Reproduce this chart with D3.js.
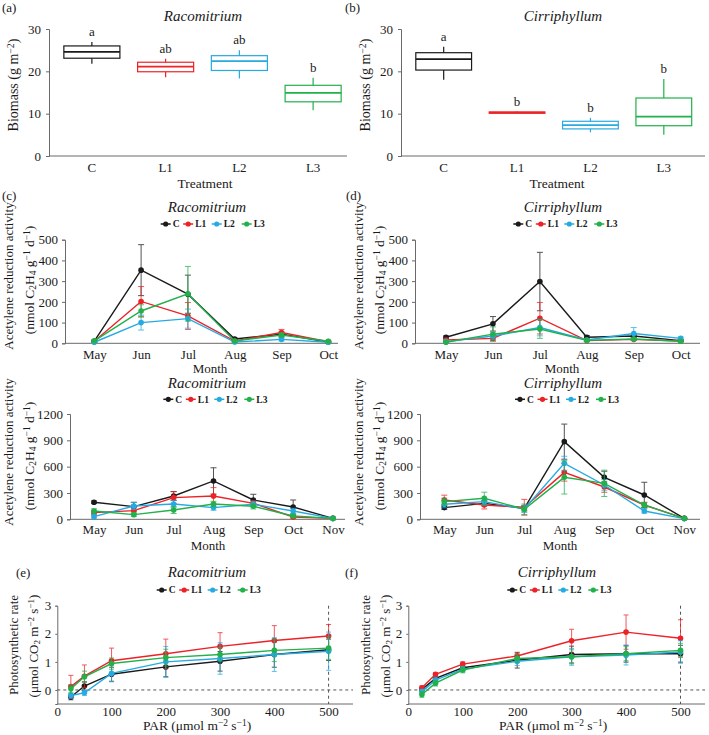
<!DOCTYPE html>
<html lang="en">
<head>
<meta charset="UTF-8">
<title>Biomass, acetylene reduction and photosynthesis</title>
<script src="https://d3js.org/d3.v7.min.js"></script>
<style>
  body { margin: 0; background: #fff; }
  svg text { font-family: "Liberation Serif", "Times New Roman", serif; fill: #1a1a1a; }
  .axis path, .axis line { stroke: #6a6a6a; }
  .axis text { font-size: 13px; }
</style>
</head>
<body>
<div id="fig"></div>
<script>
// ---- data ----
const treatments = ["C", "L1", "L2", "L3"];
const colors = ["#1a1a1a", "#ec2227", "#27aae1", "#22b04b"];

// box plots: [whisker low, q1, median, q3, whisker high]
const racBox = [[21.8, 23.1, 24.6, 26.0, 26.9], [18.6, 19.9, 21.1, 22.15, 23.0],
                [18.3, 20.2, 22.4, 23.7, 25.0], [10.8, 12.8, 14.9, 16.7, 18.5]];
const racLetters = ["a", "ab", "ab", "b"];
const cirBox = [[18.0, 20.3, 22.9, 24.4, 25.8], [10.0, 10.1, 10.25, 10.4, 10.5],
                [5.6, 6.4, 7.3, 8.2, 9.0], [5.0, 7.15, 9.3, 13.7, 18.2]];
const cirLetters = ["a", "b", "b", "b"];
const biomassTicks = [0, 10, 20, 30];

// acetylene reduction, first year (May-Oct)
const months6 = ["May", "Jun", "Jul", "Aug", "Sep", "Oct"];
const racAra1 = [[10, 353, 237, 21, 44, 6], [10, 202, 132, 11, 52, 8],
                 [5, 100, 119, 6, 19, 5], [12, 156, 239, 11, 40, 10]];
const racAra1Err = [[5, 123, 92, 5, 10, 3], [4, 72, 65, 4, 15, 3],
                    [3, 36, 46, 3, 8, 2], [4, 30, 132, 4, 10, 3]];
const cirAra1 = [[29, 94, 298, 29, 35, 13], [16, 24, 121, 13, 19, 11],
                 [8, 35, 76, 16, 47, 24], [5, 44, 69, 14, 21, 10]];
const cirAra1Err = [[6, 35, 141, 8, 8, 4], [5, 10, 76, 4, 6, 3],
                    [3, 15, 40, 4, 29, 6], [3, 35, 45, 4, 6, 3]];
const ara1Ticks = [0, 100, 200, 300, 400, 500];

// acetylene reduction, second year (May-Nov)
const months7 = ["May", "Jun", "Jul", "Aug", "Sep", "Oct", "Nov"];
const racAra2 = [[194, 144, 266, 437, 220, 140, 10], [76, 99, 247, 266, 182, 27, 10],
                 [30, 152, 175, 133, 171, 95, 10], [95, 53, 106, 175, 148, 38, 10]];
const racAra2Err = [[15, 50, 50, 150, 65, 80, 5], [20, 30, 68, 95, 30, 15, 5],
                    [15, 40, 40, 30, 30, 30, 5], [25, 20, 40, 30, 30, 15, 5]];
const cirAra2 = [[133, 182, 125, 885, 478, 277, 10], [220, 163, 137, 535, 368, 163, 10],
                 [171, 201, 118, 638, 391, 95, 8], [201, 239, 114, 478, 410, 163, 10]];
const cirAra2Err = [[20, 30, 30, 200, 70, 145, 5], [55, 45, 90, 100, 60, 30, 5],
                    [40, 40, 40, 80, 60, 25, 5], [40, 70, 60, 190, 150, 30, 5]];
const ara2Ticks = [0, 300, 600, 900, 1200];

// photosynthesis light response
const par = [25, 50, 100, 200, 300, 400, 500];
const racPs = [[-0.25, 0.14, 0.56, 0.82, 1.02, 1.26, 1.43], [0.12, 0.49, 1.04, 1.29, 1.55, 1.76, 1.92],
               [-0.2, -0.1, 0.59, 1.0, 1.12, 1.26, 1.38], [0.04, 0.47, 0.94, 1.15, 1.26, 1.41, 1.49]];
const racPsErr = [[0.1, 0.15, 0.25, 0.35, 0.35, 0.45, 0.38], [0.4, 0.4, 0.45, 0.52, 0.49, 0.53, 0.41],
                  [0.1, 0.1, 0.3, 0.55, 0.56, 0.6, 0.68], [0.15, 0.2, 0.2, 0.3, 0.25, 0.4, 0.4]];
const cirPs = [[0.02, 0.41, 0.79, 1.06, 1.26, 1.29, 1.29], [0.08, 0.56, 0.92, 1.21, 1.75, 2.06, 1.84],
               [-0.06, 0.35, 0.74, 1.02, 1.18, 1.24, 1.35], [-0.16, 0.24, 0.71, 1.12, 1.18, 1.29, 1.41]];
const cirPsErr = [[0.05, 0.1, 0.1, 0.28, 0.3, 0.3, 0.3], [0.06, 0.06, 0.08, 0.1, 0.41, 0.61, 0.66],
                  [0.08, 0.1, 0.1, 0.15, 0.3, 0.35, 0.4], [0.1, 0.1, 0.1, 0.15, 0.25, 0.25, 0.25]];
const psTicks = [0, 1, 2, 3];
const parTicks = [0, 100, 200, 300, 400, 500];

// ---- svg ----
const svg = d3.select("#fig").append("svg")
  .attr("width", 709).attr("height", 735);

// text with sub/superscripts: parts = [[text, "sub"|"sup"|null], ...]
function rich(text, parts) {
  parts.forEach(([t, k]) => {
    const ts = text.append("tspan").text(t);
    if (k) ts.attr("baseline-shift", k === "sub" ? "-25%" : "40%").attr("font-size", "70%");
  });
  return text;
}

function rotLabel(x, y, parts, size) {
  rich(svg.append("text")
    .attr("transform", `translate(${x},${y}) rotate(-90)`)
    .attr("text-anchor", "middle")
    .attr("font-size", size), parts);
}

function plainText(x, y, str, size, opts = {}) {
  return svg.append("text").attr("x", x).attr("y", y)
    .attr("text-anchor", opts.anchor || "middle")
    .attr("font-size", size)
    .attr("font-style", opts.italic ? "italic" : null)
    .text(str);
}

function yAxis(y, x0, ticks, size, pad) {
  svg.append("g").attr("class", "axis")
    .attr("transform", `translate(${x0},0)`)
    .call(d3.axisLeft(y).tickValues(ticks).tickFormat(d3.format("d")).tickSize(size).tickPadding(pad));
}

function xAxis(x, y0, x1, x2, pad, ticks) {
  const ax = d3.axisBottom(x).tickSize(0).tickPadding(pad);
  if (ticks) ax.tickValues(ticks).tickFormat(d3.format("d"));
  const g = svg.append("g").attr("class", "axis")
    .attr("transform", `translate(0,${y0})`).call(ax);
  g.select(".domain").remove();
  svg.append("line").attr("x1", x1).attr("x2", x2).attr("y1", y0).attr("y2", y0)
    .attr("stroke", "#6a6a6a");
}

function legend(x0, y0) {
  const offs = [0, 22.5, 51, 81];
  const g = svg.append("g");
  const item = g.selectAll("g").data(treatments).join("g")
    .attr("transform", (d, i) => `translate(${x0 + offs[i]},${y0})`);
  item.append("line").attr("x1", -5).attr("x2", 5)
    .attr("stroke", (d, i) => colors[i]).attr("stroke-width", 1.5);
  item.append("circle").attr("r", 2.6).attr("fill", (d, i) => colors[i]);
  item.append("text").attr("x", 7).attr("y", 3.3)
    .attr("font-size", 9.5).attr("font-weight", "bold").text(d => d);
}

function boxPanel(data, letters, axisX, axisEnd, bandRange) {
  const y = d3.scaleLinear().domain([0, 30]).range([156, 29]);
  const x = d3.scaleBand().domain(treatments).range(bandRange);
  yAxis(y, axisX, biomassTicks, 3, 5);
  xAxis(x, 156, axisX, axisEnd, 7);
  const bw = x.bandwidth() * 0.76;
  const rows = treatments.map((t, i) => ({ t, v: data[i], c: colors[i], l: letters[i] }));
  const g = svg.append("g").selectAll("g").data(rows).join("g")
    .attr("transform", d => `translate(${x(d.t) + x.bandwidth() / 2},0)`)
    .attr("stroke", d => d.c).attr("fill", "none");
  g.append("line").attr("y1", d => y(d.v[0])).attr("y2", d => y(d.v[1])).attr("stroke-width", 1.2);
  g.append("line").attr("y1", d => y(d.v[3])).attr("y2", d => y(d.v[4])).attr("stroke-width", 1.2);
  g.append("rect").attr("x", -bw / 2).attr("width", bw)
    .attr("y", d => y(d.v[3])).attr("height", d => y(d.v[1]) - y(d.v[3]))
    .attr("stroke-width", 1.2);
  g.append("line").attr("x1", -bw / 2).attr("x2", bw / 2)
    .attr("y1", d => y(d.v[2])).attr("y2", d => y(d.v[2])).attr("stroke-width", 1.8);
  g.append("text").attr("y", d => y(d.v[4]) - 6).attr("text-anchor", "middle")
    .attr("stroke", "none").attr("fill", "#1a1a1a").attr("font-size", 13)
    .text(d => d.l);
}

function series(x, y, xs, vals, errs, cap) {
  vals.forEach((v, i) => {
    const pts = xs.map((xv, j) => ({ x: x(xv), y: y(v[j]), lo: y(v[j] - errs[i][j]), hi: y(v[j] + errs[i][j]) }));
    const g = svg.append("g");
    const eb = g.append("g").attr("stroke", colors[i]).attr("stroke-width", 1).attr("opacity", 0.75)
      .selectAll("g").data(pts).join("g");
    eb.append("line").attr("x1", d => d.x).attr("x2", d => d.x).attr("y1", d => d.lo).attr("y2", d => d.hi);
    eb.append("line").attr("x1", d => d.x - cap).attr("x2", d => d.x + cap).attr("y1", d => d.lo).attr("y2", d => d.lo);
    eb.append("line").attr("x1", d => d.x - cap).attr("x2", d => d.x + cap).attr("y1", d => d.hi).attr("y2", d => d.hi);
    g.append("path").datum(pts)
      .attr("d", d3.line().x(d => d.x).y(d => d.y))
      .attr("fill", "none").attr("stroke", colors[i]).attr("stroke-width", 1.4);
    g.selectAll("circle").data(pts).join("circle")
      .attr("cx", d => d.x).attr("cy", d => d.y).attr("r", 2.8).attr("fill", colors[i]);
  });
}

function monthPanel(cfg) {
  const y = d3.scaleLinear().domain([0, cfg.max]).range(cfg.yRange);
  const x = d3.scalePoint().domain(cfg.months).range(cfg.xRange);
  yAxis(y, cfg.axisX, cfg.ticks, 3, 4);
  xAxis(x, cfg.yRange[0], cfg.axisX, cfg.axisEnd, cfg.pad);
  series(x, y, cfg.months, cfg.vals, cfg.errs, 3);
}

function parPanel(cfg) {
  const y = d3.scaleLinear().domain([-0.5, 3]).range([704, 605.7]);
  const x = d3.scaleLinear().domain([0, 545]).range([cfg.axisX, cfg.axisEnd]);
  yAxis(y, cfg.axisX, psTicks, 2, 4);
  xAxis(x, 704, cfg.axisX, cfg.axisEnd, 3, parTicks);
  svg.append("line").attr("x1", cfg.axisX).attr("x2", cfg.axisEnd)
    .attr("y1", y(0)).attr("y2", y(0))
    .attr("stroke", "#555").attr("stroke-dasharray", "3,3");
  svg.append("line").attr("x1", x(500)).attr("x2", x(500))
    .attr("y1", y(3)).attr("y2", y(-0.5))
    .attr("stroke", "#555").attr("stroke-dasharray", "3,3");
  series(x, y, par, cfg.vals, cfg.errs, 2.5);
}

const araLabel = [["(nmol C", null], ["2", "sub"], ["H", null], ["4", "sub"], [" g", null],
                  ["\u22121", "sup"], [" d", null], ["\u22121", "sup"], [")", null]];
const psLabel = [["(\u03bcmol CO", null], ["2", "sub"], [" m", null], ["\u22122", "sup"],
                 [" s", null], ["\u22121", "sup"], [")", null]];
const parLabel = [["PAR (\u03bcmol m", null], ["\u22122", "sup"], [" s", null], ["\u22121", "sup"], [")", null]];
const bioLabel = [["Biomass (g m", null], ["\u22122", "sup"], [")", null]];

// ---- (a) (b) biomass ----
boxPanel(racBox, racLetters, 49, 347, [55, 350]);
boxPanel(cirBox, cirLetters, 401, 705, [407, 700.5]);
plainText(2, 12, "(a)", 13, { anchor: "start" });
plainText(345, 12, "(b)", 13, { anchor: "start" });
plainText(203, 21, "Racomitrium", 15, { italic: true });
plainText(563, 21, "Cirriphyllum", 15, { italic: true });
plainText(205, 188, "Treatment", 13.5);
plainText(557, 188, "Treatment", 13.5);
rotLabel(18, 85, bioLabel, 14);
rotLabel(370, 85, bioLabel, 14);

// ---- (c) (d) acetylene reduction ----
monthPanel({ months: months6, max: 500, ticks: ara1Ticks, yRange: [343.3, 239.7],
  xRange: [94.3, 328.3], axisX: 65, axisEnd: 338, pad: 6, vals: racAra1, errs: racAra1Err });
monthPanel({ months: months6, max: 500, ticks: ara1Ticks, yRange: [343.3, 239.7],
  xRange: [446, 680.7], axisX: 415, axisEnd: 700, pad: 6, vals: cirAra1, errs: cirAra1Err });
monthPanel({ months: months7, max: 1200, ticks: ara2Ticks, yRange: [519.3, 414],
  xRange: [94, 333], axisX: 70, axisEnd: 345, pad: 5, vals: racAra2, errs: racAra2Err });
monthPanel({ months: months7, max: 1200, ticks: ara2Ticks, yRange: [519.3, 414],
  xRange: [444.3, 684.3], axisX: 420, axisEnd: 700, pad: 5, vals: cirAra2, errs: cirAra2Err });

plainText(2, 200, "(c)", 13, { anchor: "start" });
plainText(346, 200, "(d)", 13, { anchor: "start" });
plainText(207, 212, "Racomitrium", 15, { italic: true });
plainText(563, 212, "Cirriphyllum", 15, { italic: true });
plainText(207, 388, "Racomitrium", 15, { italic: true });
plainText(563, 388, "Cirriphyllum", 15, { italic: true });
legend(165.7, 224);
legend(518.3, 224);
legend(168.3, 399.3);
legend(520, 399.3);
plainText(210, 373, "Month", 13);
plainText(562, 373, "Month", 13);
plainText(208, 550, "Month", 13);
plainText(560, 550, "Month", 13);
[[13, 34, 276, 280], [363, 384, 276, 280], [13, 34, 452, 456], [363, 384, 452, 456]].forEach(([x1, x2, c1, c2]) => {
  rotLabel(x1, c1, [["Acetylene reduction activity", null]], 13);
  rotLabel(x2, c2, araLabel, 13.5);
});

// ---- (e) (f) photosynthesis ----
parPanel({ axisX: 57.3, axisEnd: 353, vals: racPs, errs: racPsErr });
parPanel({ axisX: 408.3, axisEnd: 705, vals: cirPs, errs: cirPsErr });
plainText(16, 577, "(e)", 13, { anchor: "start" });
plainText(345, 577, "(f)", 13, { anchor: "start" });
plainText(207, 577, "Racomitrium", 15, { italic: true });
plainText(557, 577, "Cirriphyllum", 15, { italic: true });
legend(161.7, 590);
legend(512.3, 590);
rich(svg.append("text").attr("x", 197).attr("y", 730).attr("text-anchor", "middle").attr("font-size", 13.5), parLabel);
rich(svg.append("text").attr("x", 553).attr("y", 730).attr("text-anchor", "middle").attr("font-size", 13.5), parLabel);
[[18, 38], [370, 390]].forEach(([x1, x2]) => {
  rotLabel(x1, 645, [["Photosynthetic rate", null]], 13);
  rotLabel(x2, 646, psLabel, 13);
});
</script>
</body>
</html>
